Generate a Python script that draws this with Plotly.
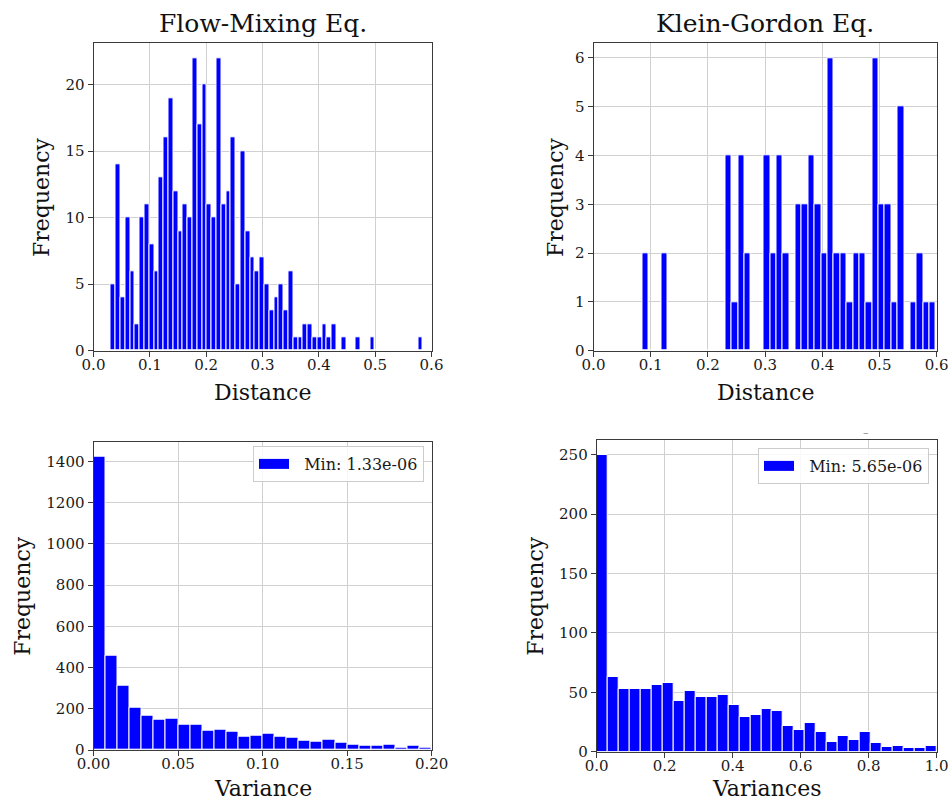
import numpy as np
import plotly.graph_objects as go

# ---------------- data ----------------
# Flow-Mixing Eq. : histogram of distances (65 bins)
fm_bin_start = 0.0308
fm_bin_end = 0.5846
fm_counts = [5, 14, 4, 10, 6, 2, 10, 11, 8, 6,
             13, 16, 19, 12, 9, 11, 10, 22, 17, 20,
             11, 10, 22, 11, 12, 16, 5, 15, 9, 7,
             6, 7, 5, 3, 4, 5, 3, 6, 1, 1,
             2, 2, 1, 1, 2, 1, 2, 0, 1, 0,
             0, 1, 0, 0, 1, 0, 0, 0, 0, 0,
             0, 0, 0, 0, 1]

# Klein-Gordon Eq. : histogram of distances (46 bins)
kg_bin_start = 0.0856
kg_bin_end = 0.5987
kg_counts = [2, 0, 0, 2, 0, 0, 0, 0, 0, 0,
             0, 0, 0, 4, 1, 4, 2, 0, 0, 4,
             2, 4, 2, 0, 3, 3, 4, 3, 2, 6,
             2, 2, 1, 2, 2, 1, 6, 3, 3, 1,
             5, 0, 1, 2, 1, 1]

# Flow-Mixing variance histogram (28 bins over 0..0.2)
fv_bin_start = 0.0
fv_bin_end = 0.2
fv_counts = [1424, 455, 312, 206, 164, 146, 151, 122, 125, 96,
             99, 89, 63, 68, 78, 63, 60, 44, 39, 50,
             36, 28, 21, 21, 24, 13, 21, 10]
fv_label = "Min: 1.33e-06"

# Klein-Gordon variance histogram (31 bins over 0..1)
kv_bin_start = 0.0
kv_bin_end = 1.0
kv_counts = [250, 63, 53, 53, 53, 56, 58, 43, 51, 46,
             46, 48, 39, 29, 31, 36, 34, 22, 18, 24,
             17, 8, 13, 10, 17, 7, 4, 5, 3, 3, 5]
kv_label = "Min: 5.65e-06"

titles = ["Flow-Mixing Eq.", "Klein-Gordon Eq."]
xlabels = ["Distance", "Distance", "Variance", "Variances"]
ylabel = "Frequency"

# ---------------- helpers ----------------
W, H = 950, 803
FONT = "DejaVu Serif"
BLUE = "#0000ff"
NBSP2 = "\u00a0\u00a0"


def centers_widths(start, end, counts):
    edges = np.linspace(start, end, len(counts) + 1)
    return (edges[:-1] + edges[1:]) / 2, np.diff(edges)


def px(x):
    return x / W


def py(y):
    return 1 - y / H


fig = go.Figure()

panels = [
    (fm_bin_start, fm_bin_end, fm_counts, "x", "y"),
    (kg_bin_start, kg_bin_end, kg_counts, "x2", "y2"),
    (fv_bin_start, fv_bin_end, fv_counts, "x3", "y3"),
    (kv_bin_start, kv_bin_end, kv_counts, "x4", "y4"),
]
for start, end, counts, xa, ya in panels:
    c, w = centers_widths(start, end, counts)
    fig.add_trace(go.Bar(
        x=c, y=counts, width=w, xaxis=xa, yaxis=ya,
        marker=dict(color=BLUE, line=dict(color="white", width=1)),
        showlegend=False, hoverinfo="x+y",
    ))

# legend entries (rectangular patch look)
fig.add_trace(go.Scatter(x=[None], y=[None], mode="lines", xaxis="x3", yaxis="y3",
                         line=dict(color=BLUE, width=10), name=NBSP2 + fv_label, legend="legend"))
fig.add_trace(go.Scatter(x=[None], y=[None], mode="lines", xaxis="x4", yaxis="y4",
                         line=dict(color=BLUE, width=10), name=NBSP2 + kv_label, legend="legend2"))

axis_common = dict(
    showline=True, linecolor="#3a3a3a", linewidth=1, mirror=True,
    ticks="outside", ticklen=5, tickwidth=1, tickcolor="#3a3a3a",
    showgrid=True, gridcolor="#d0d0d0", gridwidth=1, zeroline=False,
    automargin=False,
    tickfont=dict(family=FONT, size=15, color="#1a1a1a"),
)

# plot-area pixel boxes: (left, right, top, bottom)
boxes = [
    (93.5, 431.5, 43.3, 350.7),
    (593.5, 936.7, 43.3, 350.7),
    (93.5, 431.7, 441.7, 750.0),
    (596.7, 936.7, 440.0, 751.7),
]
xranges = [[0, 0.6], [0, 0.6], [0, 0.2], [0, 1.0]]
xdticks = [0.1, 0.1, 0.05, 0.2]
xfmts = [".1f", ".1f", ".2f", ".1f"]
yranges = [[0, 23.1], [0, 6.3], [0, 1495], [0, 262.5]]
ydticks = [5, 1, 200, 50]

layout = dict(
    template="none",
    width=W, height=H, margin=dict(l=0, r=0, t=0, b=0, pad=0), autosize=False,
    paper_bgcolor="white", plot_bgcolor="white",
    font=dict(family=FONT, color="#222222"),
    bargap=0,
)
for i, (l, r, t, b) in enumerate(boxes):
    sfx = "" if i == 0 else str(i + 1)
    layout["xaxis" + sfx] = dict(axis_common, domain=[px(l), px(r)], range=xranges[i],
                                 dtick=xdticks[i], tick0=0, tickformat=xfmts[i],
                                 ticklabelstandoff=-5, anchor="y" + sfx)
    layout["yaxis" + sfx] = dict(axis_common, domain=[py(b), py(t)], range=yranges[i],
                                 dtick=ydticks[i], tick0=0, anchor="x" + sfx)

legend_common = dict(xanchor="right", yanchor="top",
                     bordercolor="#cccccc", borderwidth=1, bgcolor="rgba(255,255,255,0.85)",
                     font=dict(family=FONT, size=16, color="#1a1a1a"))
layout["legend"] = dict(legend_common, x=px(424), y=py(446))
layout["legend2"] = dict(legend_common, x=px(929), y=py(448))
fig.update_layout(**layout)

ann = []
# titles
for i, t in enumerate(titles):
    l, r, top, b = boxes[i]
    ann.append(dict(text=t, x=px((l + r) / 2), y=py(23), xref="paper", yref="paper",
                    xanchor="center", yanchor="middle", showarrow=False,
                    font=dict(family=FONT, size=25, color="#111111")))
# x labels
for i in range(2):
    l, r, top, b = boxes[i]
    ann.append(dict(text=xlabels[i], x=px((l + r) / 2), y=py(393), xref="paper", yref="paper",
                    xanchor="center", yanchor="middle", showarrow=False,
                    font=dict(family=FONT, size=22, color="#111111")))
for i in range(2, 4):
    l, r, top, b = boxes[i]
    ann.append(dict(text=xlabels[i], x=px((l + r) / 2), y=0, xref="paper", yref="paper",
                    xanchor="center", yanchor="bottom", showarrow=False,
                    font=dict(family=FONT, size=22, color="#111111")))
# y labels
yl_x = [42, 556, 23, 536]
for i in range(4):
    l, r, top, b = boxes[i]
    ann.append(dict(text=ylabel, x=px(yl_x[i]), y=py((top + b) / 2), xref="paper", yref="paper",
                    xanchor="center", yanchor="middle", textangle=-90, showarrow=False,
                    font=dict(family=FONT, size=22, color="#111111")))
# small stray dash above the lower-right panel
ann.append(dict(text="–", x=px(866), y=py(432), xref="paper", yref="paper",
                xanchor="center", yanchor="middle", showarrow=False,
                font=dict(family=FONT, size=11, color="#888888")))
fig.update_layout(annotations=ann)

fig.write_html("out.html", config={"displayModeBar": False},
               post_script="document.body.style.margin='0';")
